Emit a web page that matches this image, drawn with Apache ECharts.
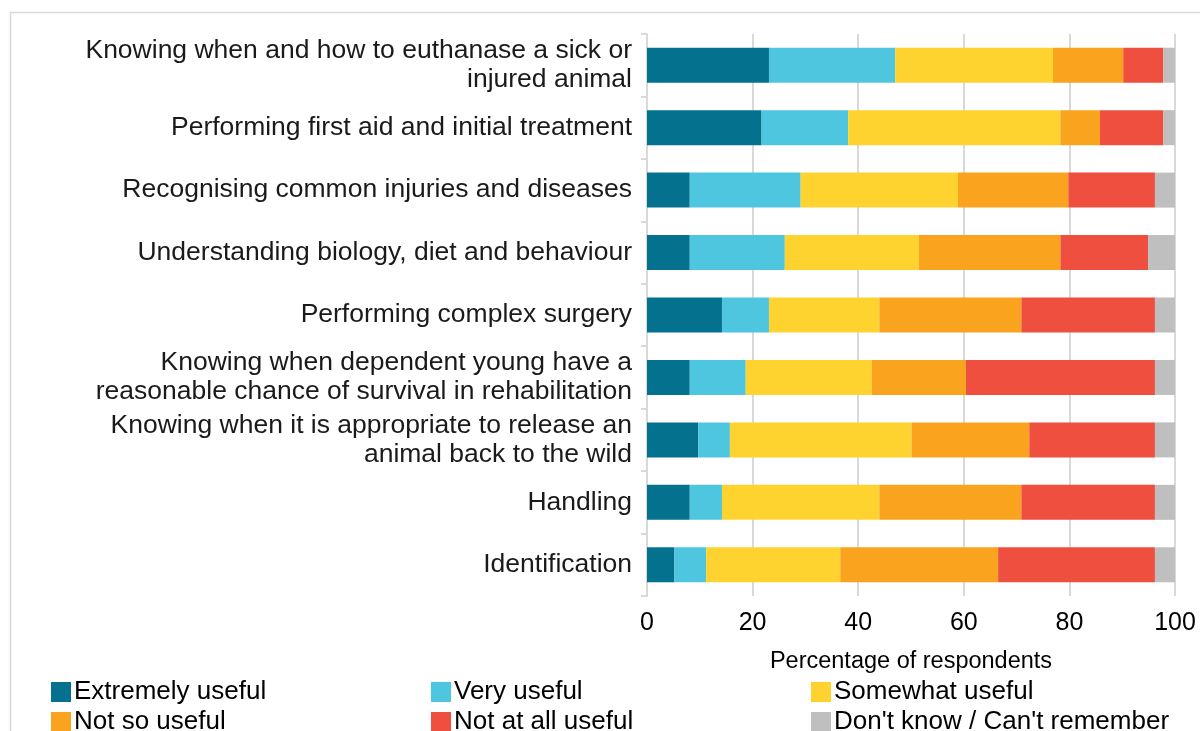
<!DOCTYPE html>
<html>
<head>
<meta charset="utf-8">
<script src="https://cdn.jsdelivr.net/npm/echarts@6/dist/echarts.min.js"></script>
<style>
  html, body { margin: 0; padding: 0; background: #fff; }
  #chart { width: 1200px; height: 731px; }
</style>
</head>
<body>
<div id="chart"></div>
<script>
// Skill areas, top to bottom
const categories = [
  'Knowing when and how to euthanase a sick or\ninjured animal',
  'Performing first aid and initial treatment',
  'Recognising common injuries and diseases',
  'Understanding biology, diet and behaviour',
  'Performing complex surgery',
  'Knowing when dependent young have a\nreasonable chance of survival in rehabilitation',
  'Knowing when it is appropriate to release an\nanimal back to the wild',
  'Handling',
  'Identification'
];

// Percentage of respondents per usefulness rating
const extremelyUseful = [23.1, 21.7, 8.1, 8.1, 14.2, 8.1, 9.7, 8.1, 5.2];
const veryUseful      = [23.9, 16.4, 21.0, 18.0, 8.9, 10.6, 6.0, 6.1, 6.0];
const somewhatUseful  = [29.9, 40.2, 29.8, 25.4, 20.9, 23.9, 34.4, 29.8, 25.4];
const notSoUseful     = [13.3, 7.5, 20.9, 26.8, 26.9, 17.8, 22.3, 26.9, 29.9];
const notAtAllUseful  = [7.6, 12.0, 16.4, 16.6, 25.3, 35.8, 23.8, 25.3, 29.7];
const dontKnow        = [2.2, 2.2, 3.8, 5.1, 3.8, 3.8, 3.8, 3.8, 3.8];

const xTicks = [0, 20, 40, 60, 80, 100];

const seriesDefs = [
  { name: 'Extremely useful', data: extremelyUseful, color: '#04728f' },
  { name: 'Very useful', data: veryUseful, color: '#4fc6df' },
  { name: 'Somewhat useful', data: somewhatUseful, color: '#fed330' },
  { name: 'Not so useful', data: notSoUseful, color: '#f9a31f' },
  { name: 'Not at all useful', data: notAtAllUseful, color: '#ef4f3e' },
  { name: "Don't know / Can't remember", data: dontKnow, color: '#bfbfbf' }
];

const FONT = '"Liberation Sans", Arial, sans-serif';
const chart = echarts.init(document.getElementById('chart'), null, { renderer: 'canvas' });

chart.setOption({
  animation: false,
  backgroundColor: '#fff',
  textStyle: { fontFamily: FONT },
  graphic: [{
    type: 'rect',
    shape: { x: 10.5, y: 12.5, width: 1200, height: 730 },
    style: { fill: 'none', stroke: '#d9d9d9', lineWidth: 1.5 },
    silent: true,
    z: -1
  }],
  grid: { left: 647, right: 25, top: 34, bottom: 135, containLabel: false },
  legend: {
    left: 46,
    top: 672,
    width: 1160,
    orient: 'horizontal',
    itemWidth: 20,
    itemHeight: 20,
    itemGap: 0,
    icon: 'rect',
    data: seriesDefs.map(s => s.name),
    textStyle: {
      fontFamily: FONT,
      fontSize: 26,
      color: '#000',
      width: 357,
      lineHeight: 30,
      padding: [0, 0, 0, -2]
    }
  },
  xAxis: {
    type: 'value',
    min: 0,
    max: 100,
    interval: 20,
    name: 'Percentage of respondents',
    nameLocation: 'middle',
    nameGap: 54,
    nameTextStyle: { fontFamily: FONT, fontSize: 23.5, color: '#000' },
    axisLine: { show: false },
    axisTick: { show: false },
    axisLabel: {
      fontFamily: FONT,
      fontSize: 25,
      color: '#000',
      margin: 15,
      formatter: v => (xTicks.indexOf(v) >= 0 ? String(v) : '')
    },
    splitLine: { show: true, lineStyle: { color: '#d9d9d9', width: 2 } }
  },
  yAxis: {
    type: 'category',
    inverse: true,
    data: categories,
    axisLine: { show: true, lineStyle: { color: '#d9d9d9', width: 2 } },
    axisTick: { show: true, length: 6, inside: false, lineStyle: { color: '#d9d9d9', width: 2 } },
    axisLabel: {
      fontFamily: FONT,
      fontSize: 26.5,
      lineHeight: 29,
      color: '#1a1a1a',
      margin: 15,
      align: 'right'
    }
  },
  series: seriesDefs.map(s => ({
    name: s.name,
    type: 'bar',
    stack: 'total',
    barWidth: 35,
    data: s.data,
    itemStyle: { color: s.color },
    emphasis: { disabled: true }
  }))
});
</script>
</body>
</html>
